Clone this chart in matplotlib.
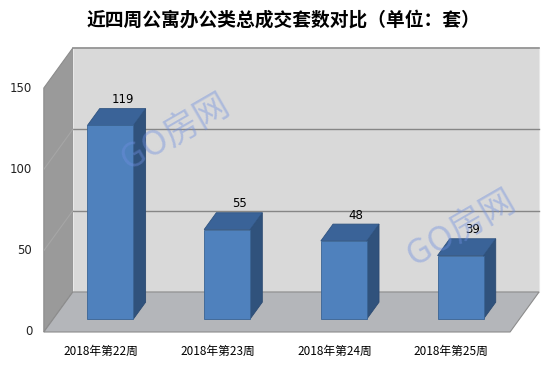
import matplotlib.pyplot as plt
from matplotlib.patches import Polygon

plt.rcParams['font.family'] = ['Noto Sans CJK SC', 'DejaVu Sans']

# data
weeks = ['2018年第22周', '2018年第23周', '2018年第24周', '2018年第25周']
counts = [119, 55, 48, 39]
yticks = [0, 50, 100, 150]
title = '近四周公寓办公类总成交套数对比（单位：套）'

# pseudo-3d geometry (depth vector in data units)
DX, DY = 0.2485, 24.6
x0, x1 = -0.49, 3.505
ymax = 150
bar_w = 0.394
d0, d1 = 0.325, 0.745


def shift(pts, d):
    return [(x + d * DX, y + d * DY) for x, y in pts]


fig = plt.figure(figsize=(5.55, 3.69), dpi=100)
ax = fig.add_axes([0, 0, 1, 1])
ax.set_xlim(-0.8655, 3.890)
ax.set_ylim(-22.75, 204.1)
ax.axis('off')

wall_edge = '#8c8c8c'
# side wall
ax.add_patch(Polygon([(x0, 0), (x0 + DX, DY), (x0 + DX, ymax + DY), (x0, ymax)],
                     closed=True, fc='#9a9a9a', ec=wall_edge, lw=0.8, zorder=1))
# back wall
ax.add_patch(Polygon([(x0 + DX, DY), (x1 + DX, DY), (x1 + DX, ymax + DY), (x0 + DX, ymax + DY)],
                     closed=True, fc='#d9d9d9', ec='#e8e8e8', lw=0.8, zorder=1))
ax.plot([x0 + DX, x1 + DX], [ymax + DY, ymax + DY], color='#8c8c8c', lw=1.2, zorder=2)
# floor
ax.add_patch(Polygon([(x0, 0), (x1, 0), (x1 + DX, DY), (x0 + DX, DY)],
                     closed=True, fc='#b4b6ba', ec=wall_edge, lw=0.8, zorder=1))

# gridlines
for v in yticks[1:-1]:
    ax.plot([x0 + DX, x1 + DX], [v + DY, v + DY], color='#868686', lw=1.0, zorder=2)
    ax.plot([x0, x0 + DX], [v, v + DY], color='#a6a6a6', lw=0.8, zorder=2)

# tick labels
for v in yticks:
    ax.text(x0 - 0.1, v, str(v), ha='right', va='center', fontsize=8.5,
            family='DejaVu Sans', color='#222222')
for i, lab in enumerate(weeks):
    ax.text(i, -12, lab, ha='center', va='center', fontsize=8.5, color='black')

# bars
for i, v in enumerate(counts):
    xl, xr = i - bar_w / 2, i + bar_w / 2
    front = shift([(xl, 0), (xr, 0), (xr, v), (xl, v)], d0)
    top = shift([(xl, v), (xr, v)], d0) + shift([(xr, v), (xl, v)], d1)
    side = shift([(xr, 0), (xr, v)], d0) + shift([(xr, v), (xr, 0)], d1)
    ax.add_patch(Polygon(side, closed=True, fc='#30527c', ec='#2b4a72', lw=0.6, zorder=3))
    ax.add_patch(Polygon(top, closed=True, fc='#3a6398', ec='#2f5380', lw=0.6, zorder=3))
    ax.add_patch(Polygon(front, closed=True, fc='#4f81bd', ec='#3a6494', lw=0.6, zorder=4))
    lx, ly = shift([(i, v)], d1)[0]
    ax.text(lx, ly + 1.5, str(v), ha='center', va='bottom', fontsize=8.5,
            family='DejaVu Sans', color='black', zorder=5)

# watermark
for wx, wy in [(0.64, 123), (3.09, 64)]:
    ax.text(wx, wy, 'GO房网', ha='center', va='center', fontsize=25, rotation=30,
            color='#6f8fe0', alpha=0.42, zorder=6)

fig.text(0.51, 1 - 20 / 369, title, ha='center', va='center', fontsize=13.5,
         fontweight='bold', color='black')

fig.savefig('out.png', dpi=100)
